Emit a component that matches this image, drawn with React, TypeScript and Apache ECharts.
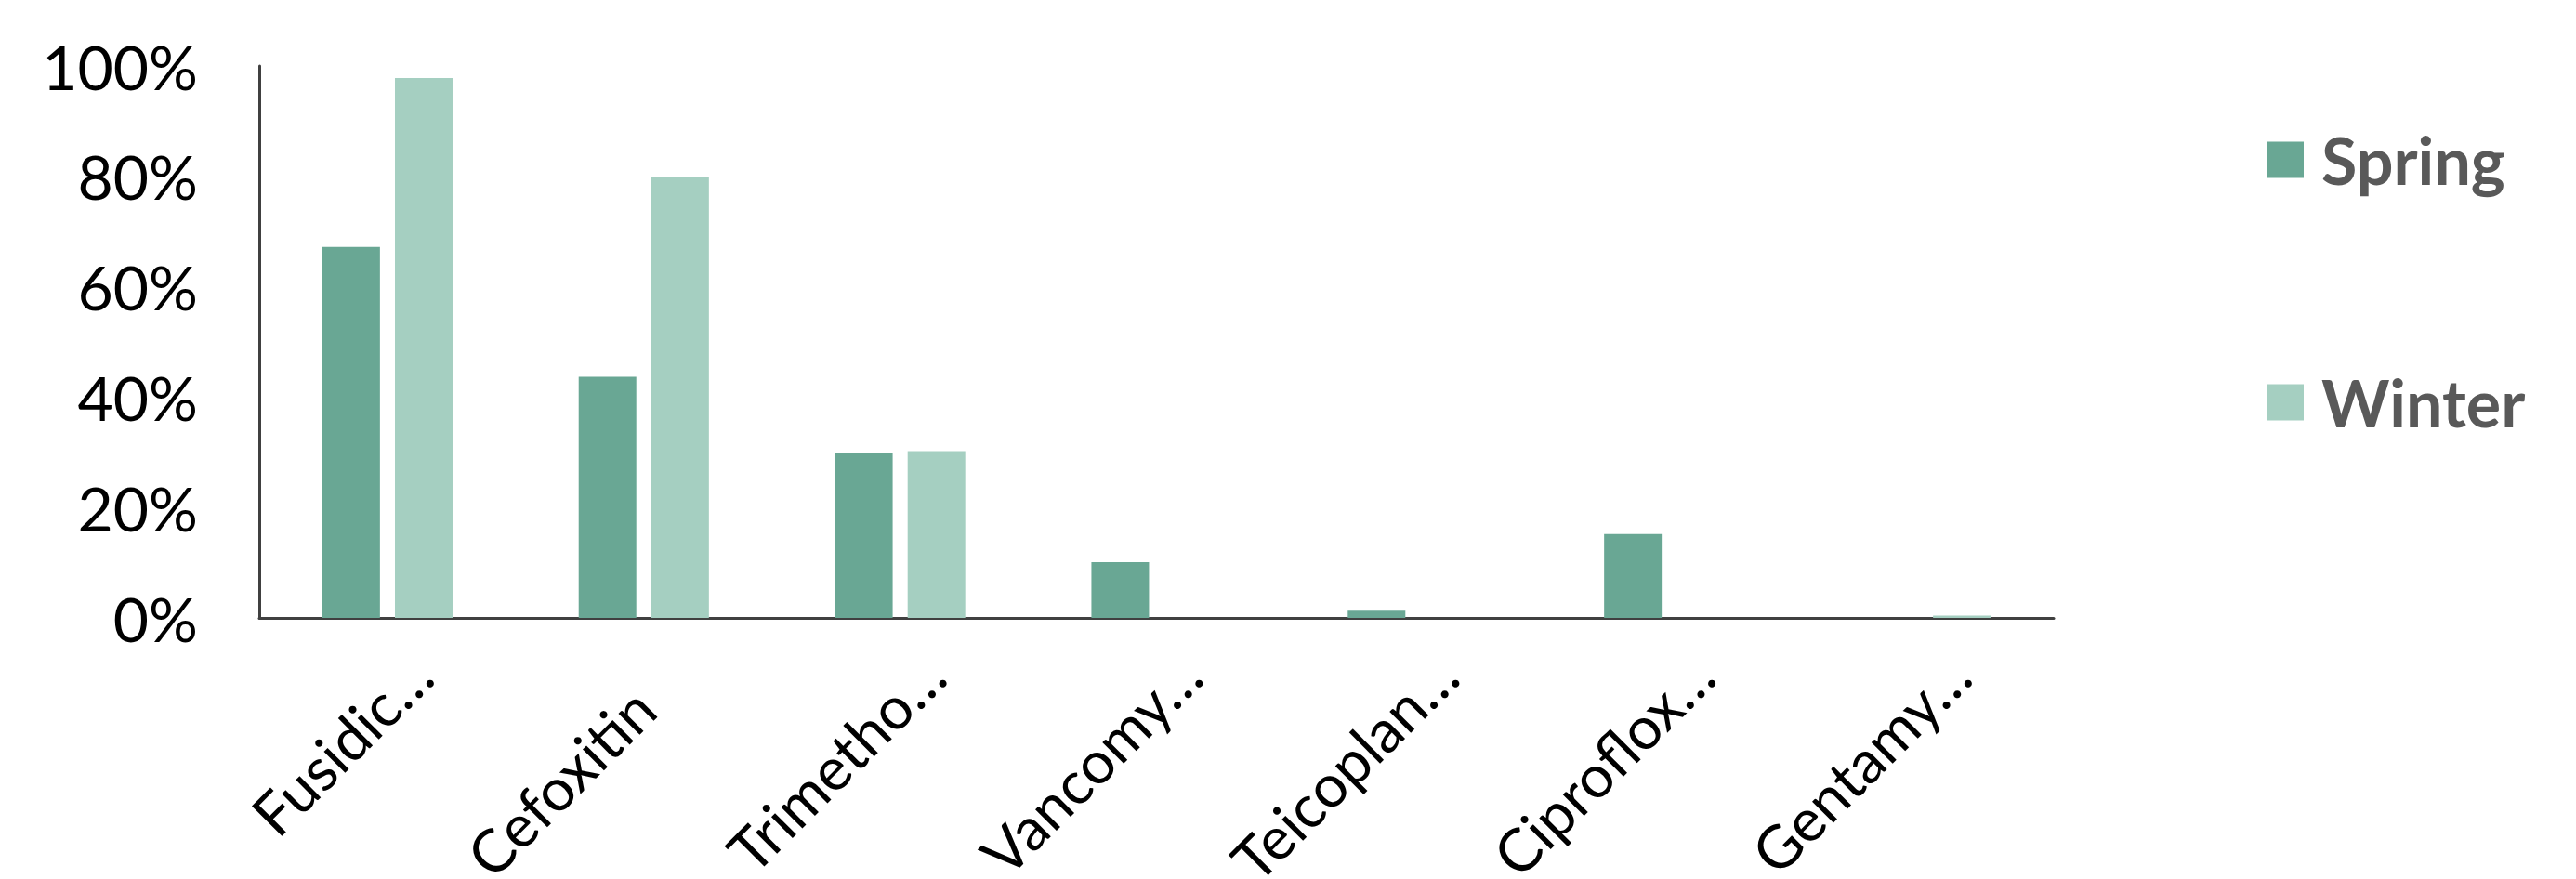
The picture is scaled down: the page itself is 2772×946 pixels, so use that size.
import React, { useEffect, useRef } from "react";
import * as echarts from "echarts";

const categories = ["Fusidic…", "Cefoxitin", "Trimetho…", "Vancomy…", "Teicoplan…", "Ciproflox…", "Gentamy…"];
const springValues = [67.2, 43.7, 29.9, 10.1, 1.3, 15.2, 0];
const winterValues = [97.8, 79.8, 30.2, 0, 0, 0, 0.4];
const seriesNames = ["Spring", "Winter"];
const yTicks = { min: 0, max: 100, interval: 20 };

const FONT = "Lato, 'Open Sans', sans-serif";

export default function App() {
  const ref = useRef<HTMLDivElement>(null);
  useEffect(() => {
    document.body.style.margin = "0";
    if (!ref.current) return;
    const chart = echarts.init(ref.current, null, { renderer: "svg" });
    const labelFont = { fontFamily: FONT, fontSize: 64, fontStyle: "normal", color: "#000000" };
    chart.setOption({
      animation: false,
      backgroundColor: "#ffffff",
      textStyle: { fontFamily: FONT },
      grid: { left: 279, right: 562, top: 71, bottom: 281, containLabel: false, outerBoundsMode: "none" },
      legend: {
        orient: "vertical",
        left: 2435,
        top: 132,
        itemWidth: 39,
        itemHeight: 39,
        itemGap: 191,
        icon: "rect",
        data: seriesNames,
        textStyle: { fontFamily: FONT, fontSize: 70, fontWeight: "bold", color: "#595959", lineHeight: 70, padding: [0, 0, 0, 14] },
      },
      xAxis: {
        type: "category",
        data: categories,
        axisLine: { show: true, lineStyle: { color: "#404040", width: 3 } },
        axisTick: { show: false },
        axisLabel: {
          rotate: 45,
          interval: 0,
          margin: 14,
          ...labelFont,
          formatter: (v: string) => (v.endsWith("…") ? `{t|${v}}` : `{c|${v}}`),
          rich: {
            t: { ...labelFont, padding: [103, 0, 0, 0] },
            c: { ...labelFont, padding: [103, 51, 0, 0] },
          },
        },
      },
      yAxis: {
        type: "value",
        min: yTicks.min,
        max: yTicks.max,
        interval: yTicks.interval,
        axisLine: { show: true, lineStyle: { color: "#404040", width: 3 } },
        axisTick: { show: false },
        splitLine: { show: false },
        axisLabel: {
          formatter: "{value}%",
          margin: 66,
          fontFamily: FONT,
          fontSize: 66,
          color: "#000000",
        },
      },
      series: [
        {
          name: seriesNames[0],
          type: "bar",
          data: springValues,
          barWidth: 62,
          barGap: "26%",
          itemStyle: { color: "#69a794" },
        },
        {
          name: seriesNames[1],
          type: "bar",
          data: winterValues,
          barWidth: 62,
          barGap: "26%",
          itemStyle: { color: "#a5cfc1" },
        },
      ],
    });
    return () => chart.dispose();
  }, []);
  return <div ref={ref} style={{ width: 2772, height: 946 }} />;
}
